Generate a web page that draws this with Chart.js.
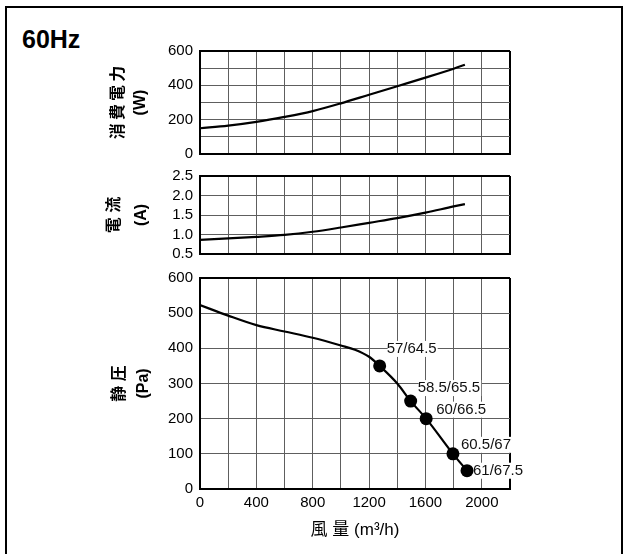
<!DOCTYPE html>
<html>
<head>
<meta charset="utf-8">
<script src="https://cdn.jsdelivr.net/npm/chart.js@4.4.1/dist/chart.umd.min.js"></script>
<style>
body{margin:0;background:#fff;width:627px;height:554px;overflow:hidden;position:relative}
#frame{position:absolute;left:5px;top:6px;width:614px;height:600px;border:2px solid #000}
#hz{position:absolute;left:22px;top:27px;font:bold 25px/25px 'Liberation Sans',Arial,sans-serif;color:#000}
.box{position:absolute;left:0;width:627px}
</style>
</head>
<body>
<div id="frame"></div>
<div id="hz">60Hz</div>
<div class="box" style="top:0;height:170px"><canvas id="powerChart"></canvas></div>
<div class="box" style="top:160px;height:110px"><canvas id="currentChart"></canvas></div>
<div class="box" style="top:262px;height:292px"><canvas id="pressureChart"></canvas></div>
<script>
// air flow (m3/h) for the power / current curves
var flow = [0, 200, 400, 600, 800, 1000, 1200, 1400, 1600, 1800, 1880];
var powerW = [150, 165, 187, 216, 250, 295, 345, 395, 445, 497, 520];
var currentA = [0.86, 0.90, 0.94, 0.99, 1.07, 1.18, 1.30, 1.42, 1.56, 1.72, 1.78];

// static pressure curve
var pressureFlow = [0, 200, 400, 600, 800, 1000, 1100, 1200, 1275, 1400, 1495, 1605, 1795, 1895];
var pressurePa = [523, 493, 466, 448, 430, 408, 396, 376, 350, 300, 250, 200, 100, 52];

// marked operating points and their noise labels
var pointFlow = [1275, 1495, 1605, 1795, 1895];
var pointPa = [350, 250, 200, 100, 52];
var pointLabels = ['57/64.5', '58.5/65.5', '60/66.5', '60.5/67', '61/67.5'];

var FONT = "'Liberation Sans', Arial, 'Noto Sans CJK JP', sans-serif";
Chart.defaults.font.family = FONT;
Chart.defaults.font.size = 15;
Chart.defaults.color = '#000';

function toXY(xs, ys) {
    var out = [];
    for (var i = 0; i < xs.length; i++) out.push({x: xs[i], y: ys[i]});
    return out;
}

function gridColor(max) {
    return function (c) { return c.tick && Math.abs(c.tick.value - max) < 1e-9 ? '#000' : '#5e5e5e'; };
}
function gridWidth(max) {
    return function (c) { return c.tick && Math.abs(c.tick.value - max) < 1e-9 ? 2 : 1; };
}

function buildOptions(cfg) {
    return {
        responsive: true,
        maintainAspectRatio: false,
        animation: false,
        layout: {padding: {left: 0, right: 117, top: cfg.padTop, bottom: cfg.padBottom}},
        plugins: {legend: {display: false}, tooltip: {enabled: false}},
        scales: {
            x: {
                type: 'linear', min: 0, max: 2200,
                border: {display: true, color: '#000', width: 2},
                grid: {drawTicks: false, color: gridColor(2200), lineWidth: gridWidth(2200)},
                ticks: cfg.showX ? {
                    stepSize: 200, autoSkip: false, maxRotation: 0, padding: 5,
                    callback: function (v) { return (v % 400 === 0 && v <= 2000) ? v : ''; }
                } : {display: false, stepSize: 200},
                title: cfg.showX ? {
                    display: true, text: '風 量 (m³/h)',
                    font: {size: 17, lineHeight: 20 / 17},
                    padding: {top: 0, bottom: 14}
                } : {display: false},
                afterFit: function (s) { s.height = cfg.xHeight; }
            },
            y: {
                min: cfg.yMin, max: cfg.yMax,
                border: {display: true, color: '#000', width: 2},
                grid: {drawTicks: false, color: gridColor(cfg.yMax), lineWidth: gridWidth(cfg.yMax)},
                ticks: {stepSize: cfg.yStep, padding: 7, autoSkip: false, callback: cfg.yFmt},
                title: {
                    display: true, text: cfg.yTitle,
                    font: {size: 16, weight: 'bold', lineHeight: cfg.titleLine / 16},
                    padding: {top: cfg.titlePad, bottom: 0}
                },
                afterFit: function (s) { s.width = 200; }
            }
        }
    };
}

var lineStyle = {borderColor: '#000', borderWidth: 2.2, pointRadius: 0, cubicInterpolationMode: 'monotone', fill: false};

new Chart(document.getElementById('powerChart'), {
    type: 'line',
    data: {datasets: [Object.assign({data: toXY(flow, powerW)}, lineStyle)]},
    options: buildOptions({
        padTop: 51, padBottom: 16, xHeight: 0, showX: false,
        yMin: 0, yMax: 600, yStep: 100,
        yFmt: function (v) { return v % 200 === 0 ? v : ''; },
        yTitle: ['消\u2009費\u2009電\u2009力', '(W)'], titleLine: 22, titlePad: 108
    })
});

new Chart(document.getElementById('currentChart'), {
    type: 'line',
    data: {datasets: [Object.assign({data: toXY(flow, currentA)}, lineStyle)]},
    options: buildOptions({
        padTop: 13, padBottom: 11, xHeight: 0, showX: false,
        yMin: 0.5, yMax: 2.5, yStep: 0.5,
        yFmt: function (v) { return v.toFixed(1); },
        yTitle: ['電 流', '(A)'], titleLine: 27, titlePad: 101
    })
});

var labelOffsets = [[7, -17], [7, -13], [10, -9], [8, -9], [6, 0]];
var pointLabelPlugin = {
    id: 'pointLabels',
    afterDatasetsDraw: function (chart) {
        var meta = chart.getDatasetMeta(1);
        var ctx = chart.ctx;
        ctx.save();
        ctx.font = '15px ' + FONT;
        ctx.textBaseline = 'middle';
        ctx.textAlign = 'left';
        meta.data.forEach(function (pt, i) {
            var t = pointLabels[i];
            var x = pt.x + labelOffsets[i][0];
            var y = pt.y + labelOffsets[i][1];
            var w = ctx.measureText(t).width;
            ctx.fillStyle = '#fff';
            ctx.fillRect(x + 1, y - 8, w, 16);
            ctx.fillStyle = '#111';
            ctx.fillText(t, x, y);
        });
        ctx.restore();
    }
};

new Chart(document.getElementById('pressureChart'), {
    type: 'line',
    data: {
        datasets: [
            Object.assign({data: toXY(pressureFlow, pressurePa)}, lineStyle),
            {data: toXY(pointFlow, pointPa), showLine: false, pointRadius: 6.5,
             pointBackgroundColor: '#000', pointBorderColor: '#000', pointBorderWidth: 0}
        ]
    },
    options: buildOptions({
        padTop: 15, padBottom: 0, xHeight: 65, showX: true,
        yMin: 0, yMax: 600, yStep: 100,
        yFmt: function (v) { return v; },
        yTitle: ['静 圧', '(Pa)'], titleLine: 24, titlePad: 108
    }),
    plugins: [pointLabelPlugin]
});
</script>
</body>
</html>
